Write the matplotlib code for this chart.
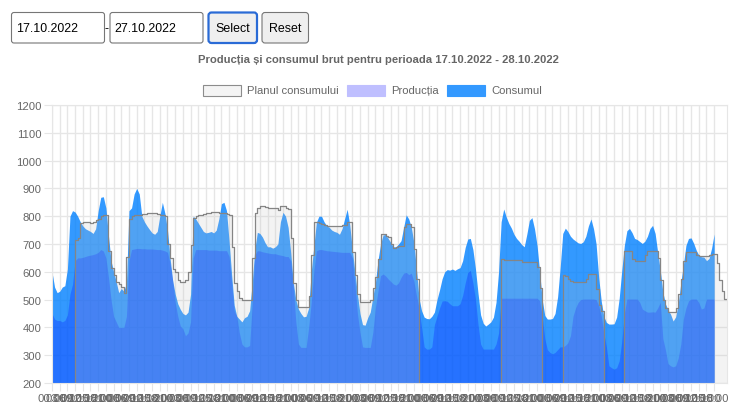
import numpy as np
import matplotlib.pyplot as plt
from matplotlib.patches import FancyBboxPatch, Rectangle

plt.rcParams['font.family'] = ['Liberation Sans', 'DejaVu Sans']

nan = np.nan

# hourly values, 17.10.2022 00:00 .. 27.10.2022 23:00 (MW)
consum = [
    600, 545, 525, 530, 545, 550, 610, 800, 820, 815, 800, 780, 765, 755, 750, 745, 738, 755, 820, 868, 870, 830, 730, 640,
    600, 565, 525, 540, 530, 560, 820, 830, 880, 900, 880, 800, 780, 765, 752, 740, 735, 745, 800, 850, 810, 750, 650, 570,
    520, 485, 465, 450, 445, 455, 520, 800, 790, 775, 760, 745, 740, 742, 745, 740, 750, 790, 845, 850, 820, 710, 590, 480,
    440, 430, 420, 435, 440, 460, 560, 680, 742, 738, 725, 705, 690, 690, 685, 690, 700, 780, 814, 800, 760, 670, 562, 500,
    466, 450, 438, 440, 470, 600, 690, 778, 800, 800, 780, 766, 760, 750, 745, 742, 735, 755, 790, 825, 770, 682, 600, 520,
    450, 410, 408, 435, 455, 510, 560, 640, 700, 732, 735, 720, 705, 690, 690, 700, 712, 760, 805, 790, 760, 705, 610, 505,
    460, 437, 432, 431, 440, 455, 500, 535, 575, 600, 608, 606, 610, 605, 611, 615, 640, 688, 718, 720, 680, 610, 522, 445,
    415, 405, 412, 420, 437, 490, 600, 780, 826, 797, 774, 757, 735, 720, 710, 698, 690, 735, 785, 795, 755, 695, 600, 500,
    443, 430, 430, 432, 450, 510, 615, 738, 757, 745, 728, 718, 711, 704, 702, 708, 728, 765, 790, 755, 700, 580, 495, 440,
    418, 412, 412, 413, 437, 505, 605, 695, 748, 756, 741, 720, 716, 709, 702, 710, 728, 756, 767, 738, 670, 605, 528, 485,
    463, 448, 423, 438, 485, 560, 625, 695, 720, 722, 703, 678, 660, 654, 653, 640, 648, 685, 736, nan, nan, nan, nan, nan,
]

productie = [
    450, 430, 425, 425, 420, 425, 445, 520, 555, 640, 650, 650, 652, 655, 658, 660, 662, 665, 670, 680, 675, 650, 580, 500,
    440, 420, 400, 400, 400, 440, 640, 680, 682, 684, 684, 683, 683, 682, 682, 682, 681, 680, 680, 678, 675, 670, 630, 570,
    490, 440, 405, 395, 370, 380, 420, 650, 680, 680, 680, 680, 680, 678, 678, 678, 678, 676, 676, 676, 676, 655, 560, 460,
    440, 380, 340, 330, 330, 335, 480, 660, 676, 675, 672, 670, 668, 666, 665, 665, 662, 660, 658, 655, 655, 640, 550, 420,
    340, 328, 328, 328, 400, 490, 600, 675, 680, 680, 678, 676, 675, 674, 673, 672, 671, 670, 670, 670, 670, 650, 560, 450,
    382, 330, 328, 328, 328, 382, 470, 530, 586, 592, 585, 574, 565, 556, 552, 560, 580, 595, 598, 590, 595, 565, 515, 470,
    400, 330, 322, 322, 330, 410, 440, 470, 495, 496, 494, 485, 478, 478, 478, 485, 515, 560, 598, 605, 560, 500, 410, 340,
    322, 322, 322, 322, 322, 340, 380, 505, 505, 505, 505, 505, 505, 505, 505, 505, 505, 505, 505, 505, 505, 505, 496, 440,
    360, 320, 310, 305, 310, 320, 330, 330, 335, 345, 370, 440, 470, 490, 500, 502, 502, 502, 502, 502, 500, 478, 442, 380,
    330, 262, 255, 250, 255, 280, 350, 450, 502, 502, 502, 502, 502, 490, 466, 460, 455, 455, 456, 455, 470, 490, 360, 320,
    270, 262, 258, 262, 290, 340, 430, 470, 495, 502, 502, 502, 490, 466, 470, 502, 502, 502, 502, nan, nan, nan, nan, nan,
]

# 0 where there is no plan
plan = [
    0, 0, 0, 0, 0, 0, 0, 0, 0, 715, 720, 775, 780, 778, 780, 775, 778, 785, 790, 800, 805, 805, 675, 615,
    590, 565, 555, 545, 525, 655, 790, 800, 805, 805, 805, 808, 808, 810, 810, 812, 810, 808, 805, 805, 800, 700, 650, 610,
    600, 570, 565, 565, 570, 600, 695, 795, 800, 805, 805, 808, 810, 812, 815, 815, 815, 812, 812, 810, 808, 805, 690, 560,
    530, 505, 500, 500, 500, 500, 650, 810, 830, 835, 835, 832, 828, 828, 828, 828, 822, 835, 838, 828, 825, 720, 560, 500,
    472, 472, 472, 472, 514, 660, 778, 778, 775, 772, 768, 766, 765, 764, 764, 764, 765, 768, 770, 778, 778, 670, 590, 520,
    490, 490, 490, 490, 500, 540, 580, 646, 736, 736, 730, 724, 700, 685, 690, 694, 694, 760, 772, 772, 760, 682, 574, 0,
    0, 0, 0, 0, 0, 0, 0, 0, 0, 0, 0, 0, 0, 0, 0, 0, 0, 0, 0, 0, 0, 0, 0, 0,
    0, 0, 0, 0, 0, 0, 0, 645, 642, 642, 642, 642, 642, 642, 642, 636, 636, 636, 636, 636, 636, 616, 540, 0,
    0, 0, 0, 0, 0, 0, 0, 588, 586, 575, 568, 562, 562, 562, 562, 562, 575, 592, 592, 592, 538, 480, 460, 0,
    0, 0, 0, 0, 0, 0, 0, 676, 676, 676, 645, 640, 640, 640, 640, 660, 676, 676, 676, 676, 650, 570, 500, 470,
    454, 454, 454, 470, 520, 575, 640, 670, 670, 670, 670, 660, 658, 658, 658, 658, 660, 664, 664, 630, 570, 530, 502, 502,
]

title = 'Producția și consumul brut pentru perioada 17.10.2022 - 28.10.2022'
legend_labels = ['Planul consumului', 'Producția', 'Consumul']
date_from, date_to = '17.10.2022', '27.10.2022'

hours = np.arange(len(consum))
tick_pos = hours[::3][:-1]
tick_labels = [f'{h % 24:02d}:00' for h in tick_pos]

W, H = 750, 414
fig = plt.figure(figsize=(W / 100, H / 100), dpi=100)
ax = fig.add_axes([52 / W, 1 - 384 / H, 675 / W, 278 / H])

grey_txt = '#666666'
grid_c = '#e6e6e6'
fs = 8.1

# consumption at the bottom, production over it, plan on top
ax.fill_between(hours, 0, consum, color=(0, 0.5, 1), alpha=0.8, lw=0)
ax.fill_between(hours, 0, productie, color=(0, 0, 1), alpha=0.25, lw=0)
ax.fill_between(hours, 0, plan, step='post', color=(0.78, 0.78, 0.78), alpha=0.2, lw=0)
ax.step(hours, plan, where='post', color='#858585', lw=0.9)

ax.set_xlim(0, len(consum) - 1)
ax.set_ylim(200, 1200)
ax.set_yticks(range(200, 1201, 100))
ax.set_xticks(tick_pos)
ax.set_xticklabels(tick_labels)
ax.set_axisbelow(True)
ax.grid(color=grid_c, lw=1)
for s in ax.spines.values():
    s.set_color(grid_c)
ax.tick_params(axis='both', colors=grid_c, labelcolor=grey_txt, labelsize=fs, length=5.5, pad=2)

# header
def box(x0, y0, x1, y1, face, edge, lw=0.8, r=2.5):
    fig.add_artist(FancyBboxPatch((x0 / 100, (H - y1) / 100), (x1 - x0) / 100, (y1 - y0) / 100,
                                  boxstyle=f'round,pad=0,rounding_size={r / 100}',
                                  transform=fig.dpi_scale_trans, facecolor=face, edgecolor=edge, lw=lw))

def txt(x, y, s, **kw):
    fig.text(x / 100, (H - y) / 100, s, transform=fig.dpi_scale_trans, va='center', **kw)

box(11.5, 13.5, 104.5, 44, 'white', '#767676')
txt(16, 29, date_from, fontsize=8.9, color='black')
txt(106.5, 29, '-', fontsize=8.9, color='black', ha='center')
box(110, 13.5, 203, 44, 'white', '#767676')
txt(114.5, 29, date_to, fontsize=8.9, color='black')
box(208.5, 13.5, 257, 44, '#efefef', '#2a6bd6', lw=1.6, r=3)
txt(232.5, 29, 'Select', fontsize=8.9, color='black', ha='center')
box(262, 13.5, 308.5, 44, '#efefef', '#767676', r=3)
txt(285, 29, 'Reset', fontsize=8.9, color='black', ha='center')

txt(378, 60, title, fontsize=fs, weight='bold', color=grey_txt, ha='center')

# legend
leg_boxes = [(203, '#f4f4f4', '#8c8c8c'), (347, '#bfbfff', '#bfbfff'), (447, '#3399ff', '#3399ff')]
for (x0, face, edge), label in zip(leg_boxes, legend_labels):
    fig.add_artist(Rectangle((x0 / 100, (H - 97) / 100), 38 / 100, 11 / 100,
                             transform=fig.dpi_scale_trans, facecolor=face, edgecolor=edge, lw=0.8))
    txt(x0 + 44, 91.5, label, fontsize=fs, color=grey_txt)

fig.savefig('out.png', dpi=100)
